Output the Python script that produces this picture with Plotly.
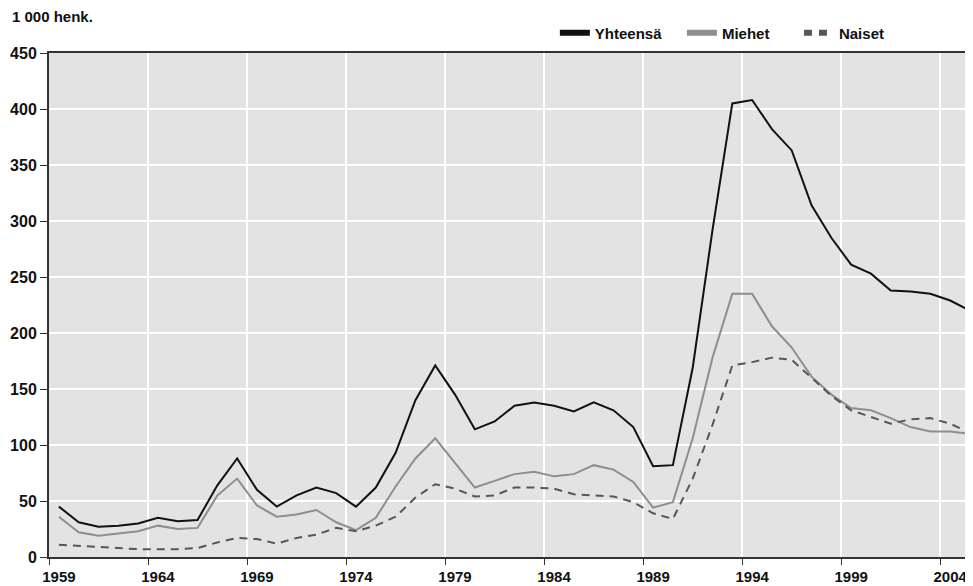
import plotly.graph_objects as go

years = list(range(1959, 2006))

yhteensa = [45, 31, 27, 28, 30, 35, 32, 33, 64, 88, 60, 45, 55, 62, 57,
            45, 62, 93, 140, 171, 145, 114, 121, 135, 138, 135, 130, 138, 131, 116,
            81, 82, 169, 292, 405, 408, 382, 363, 314, 285, 261, 253, 238, 237, 235, 229, 220]

miehet = [36, 22, 19, 21, 23, 28, 25, 26, 55, 70, 46, 36, 38, 42, 31,
          24, 35, 63, 88, 106, 84, 62, 68, 74, 76, 72, 74, 82, 78, 67,
          44, 49, 106, 178, 235, 235, 206, 187, 161, 145, 133, 131, 124, 116, 112, 112, 110]

naiset = [11, 10, 9, 8, 7, 7, 7, 8, 13, 17, 16, 12, 17, 20, 26,
          23, 28, 36, 53, 65, 61, 54, 55, 62, 62, 61, 56, 55, 54, 49,
          39, 34, 70, 118, 171, 174, 178, 176, 160, 144, 131, 125, 119, 123, 124, 119, 111]

series_names = ["Yhteensä", "Miehet", "Naiset"]
y_ticks = [0, 50, 100, 150, 200, 250, 300, 350, 400, 450]
x_label_years = [1959, 1964, 1969, 1974, 1979, 1984, 1989, 1994, 1999, 2004]
unit_label = "1 000 henk."

FONT = "Liberation Sans, Arial, sans-serif"
colors = ["#111111", "#8e8e8e", "#575757"]
dashes = ["solid", "solid", "8px,6px"]
legend_ids = ["legend", "legend2", "legend3"]

# page has an 8px body margin: figure is drawn from (8, 8) on screen
W, H = 965, 578
L, T, B = 41.3, 45, 29
PW = W - L
PH = H - T - B

fig = go.Figure()
for name, vals, col, dash in zip(series_names, [yhteensa, miehet, naiset], colors, dashes):
    fig.add_trace(go.Scatter(x=years, y=vals, mode="lines", name=name,
                             line=dict(color=col, width=2, dash=dash),
                             showlegend=False))
# legend entries with thick strokes
for name, col, dash, lg in zip(series_names, colors, ["solid", "solid", "8px,7px"], legend_ids):
    fig.add_trace(go.Scatter(x=[None], y=[None], mode="lines", name=name, legend=lg,
                             line=dict(color=col, width=6, dash=dash)))

leg_common = dict(orientation="h", xanchor="left", y=(PH + T - 25) / PH, yanchor="middle",
                  font=dict(family=FONT, size=15, color="#111111", weight="bold"),
                  bgcolor="rgba(0,0,0,0)")
leg_starts = [547, 674, 791]  # figure px of legend boxes

fig.update_layout(
    width=W, height=H,
    margin=dict(l=L, r=0, t=T, b=B, autoexpand=False),
    paper_bgcolor="white",
    plot_bgcolor="#e3e3e3",
    font=dict(family=FONT, size=14, color="#111111"),
    legend=dict(x=(leg_starts[0] - L) / PW, **leg_common),
    legend2=dict(x=(leg_starts[1] - L) / PW, **leg_common),
    legend3=dict(x=(leg_starts[2] - L) / PW, **leg_common),
    showlegend=True,
)

fig.update_xaxes(
    range=[1958.5, 1958.5 + PW / 19.8],
    tickmode="array", tickvals=x_label_years, ticktext=[str(v) for v in x_label_years],
    ticks="", showgrid=False, zeroline=False, automargin=False,
    ticklabelstandoff=5,
    tickfont=dict(family=FONT, size=15, color="#111111", weight="bold"),
    showline=True, linecolor="#333333", linewidth=2, mirror=True,
    minor=dict(tick0=1958.5, dtick=5, ticks="outside", ticklen=6, tickcolor="#333333",
               tickwidth=1, showgrid=True, gridcolor="white", gridwidth=2),
)
fig.update_yaxes(
    range=[0, 450], tickmode="array", tickvals=y_ticks,
    ticks="outside", ticklen=7, tickcolor="#333333", automargin=False,
    showgrid=True, gridcolor="white", gridwidth=2, zeroline=False,
    tickfont=dict(family=FONT, size=16, color="#111111", weight="bold"),
    showline=True, linecolor="#333333", linewidth=2,
)

fig.add_annotation(text=unit_label, xref="paper", yref="paper",
                   x=(2 - L) / PW, y=(PH + T - 8) / PH, xanchor="left", yanchor="middle",
                   showarrow=False,
                   font=dict(family=FONT, size=15, color="#111111", weight="bold"))

fig.write_html("out.html")
